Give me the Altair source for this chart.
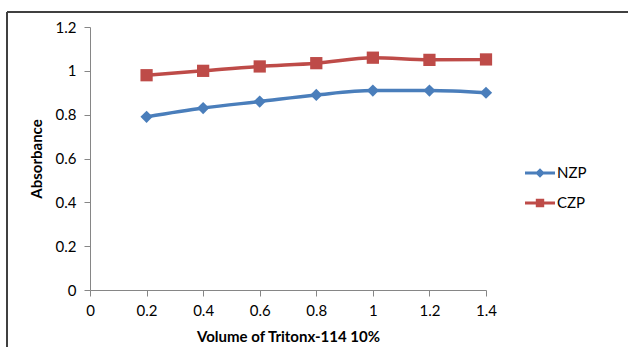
import altair as alt
import pandas as pd

# Absorbance readings against added Triton X-114 (10%) volume
volumes = [0.2, 0.4, 0.6, 0.8, 1.0, 1.2, 1.4]
nzp = [0.79, 0.83, 0.86, 0.89, 0.91, 0.91, 0.90]
czp = [0.98, 1.00, 1.02, 1.035, 1.06, 1.05, 1.052]
series_names = ["NZP", "CZP"]
series_colors = ["#4A7EBB", "#BE4B48"]

df = pd.DataFrame(
    {
        "volume": volumes * 2,
        "absorbance": nzp + czp,
        "series": [series_names[0]] * len(volumes) + [series_names[1]] * len(volumes),
    }
)

FONT = "Lato"
W, H = 396, 263
PAD_L, PAD_T = 90, 27
PAD_R, PAD_B = 628 - PAD_L - W, 347 - PAD_T - H

x_enc = alt.X(
    "volume:Q",
    scale=alt.Scale(domain=[0, 1.4], nice=False, zero=True),
    axis=alt.Axis(
        title="Volume of Tritonx-114 10%",
        values=[0, 0.2, 0.4, 0.6, 0.8, 1.0, 1.2, 1.4],
        format="~g",
        grid=False,
        labelFlush=False,
        domainColor="#868686",
        tickColor="#868686",
        tickSize=6,
        labelPadding=7,
        titlePadding=11,
    ),
)
y_enc = alt.Y(
    "absorbance:Q",
    scale=alt.Scale(domain=[0, 1.2], nice=False),
    axis=alt.Axis(
        title="Absorbance",
        values=[0, 0.2, 0.4, 0.6, 0.8, 1.0, 1.2],
        format="~g",
        grid=False,
        labelFlush=False,
        domainColor="#868686",
        tickColor="#868686",
        tickSize=6,
        labelPadding=8,
        titlePadding=11,
    ),
)
color_enc = alt.Color(
    "series:N",
    scale=alt.Scale(domain=series_names, range=series_colors),
    legend=None,
)

lines = alt.Chart(df).mark_line(strokeWidth=3.5, interpolate="monotone").encode(
    x=x_enc, y=y_enc, color=color_enc
)

markers = alt.layer(
    alt.Chart(df)
    .transform_filter(alt.datum.series == "NZP")
    .mark_point(shape="diamond", filled=True, size=150, opacity=1)
    .encode(x="volume:Q", y="absorbance:Q", color=color_enc),
    alt.Chart(df)
    .transform_filter(alt.datum.series == "CZP")
    .mark_point(shape="square", filled=True, size=150, opacity=1)
    .encode(x="volume:Q", y="absorbance:Q", color=color_enc),
)

# Legend glyphs: a short line segment carrying the series marker
legend_shapes = [
    "M-1,-0.1L1,-0.1L1,0.1L-1,0.1Z M0,-0.32L0.32,0L0,0.32L-0.32,0Z",
    "M-1,-0.1L1,-0.1L1,0.1L-1,0.1Z M-0.28,-0.28L0.28,-0.28L0.28,0.28L-0.28,0.28Z",
]
legend_cfg = alt.Legend(
    title=None,
    orient="none",
    legendX=435,
    legendY=131,
    symbolSize=900,
    symbolOpacity=1,
    symbolStrokeWidth=0,
    rowPadding=7,
    labelOffset=2,
    labelFont=FONT,
    labelFontSize=15,
    labelColor="#000000",
)
legend_layer = (
    alt.Chart(df)
    .transform_filter("false")
    .mark_point(filled=True, opacity=1)
    .encode(
        x="volume:Q",
        y="absorbance:Q",
        shape=alt.Shape(
            "series:N",
            scale=alt.Scale(domain=series_names, range=legend_shapes),
            legend=legend_cfg,
        ),
        fill=alt.Fill(
            "series:N",
            scale=alt.Scale(domain=series_names, range=series_colors),
            legend=legend_cfg,
        ),
    )
)

# Outer chart frame
frame_left = alt.Chart(df).mark_rule(color="#404040", strokeWidth=1).encode(
    x=alt.value(-83), y=alt.value(-15), y2=alt.value(H + 80)
)
frame_top = alt.Chart(df).mark_rule(color="#404040", strokeWidth=1).encode(
    x=alt.value(-83), x2=alt.value(W + 200), y=alt.value(-15)
)

chart = (
    alt.layer(frame_left, frame_top, lines, markers, legend_layer)
    .resolve_scale(shape="independent", fill="independent")
    .properties(
        width=W,
        height=H,
        autosize=alt.AutoSizeParams(type="none"),
        padding={"left": PAD_L, "top": PAD_T, "right": PAD_R, "bottom": PAD_B},
        background="#FFFFFF",
    )
    .configure_view(stroke=None)
    .configure_axis(
        labelFont=FONT,
        labelFontSize=15,
        labelColor="#000000",
        titleFont=FONT,
        titleFontSize=15,
        titleFontWeight="bold",
        titleColor="#000000",
    )
)

chart.save("out.html", embed_options={"renderer": "svg", "actions": False})
